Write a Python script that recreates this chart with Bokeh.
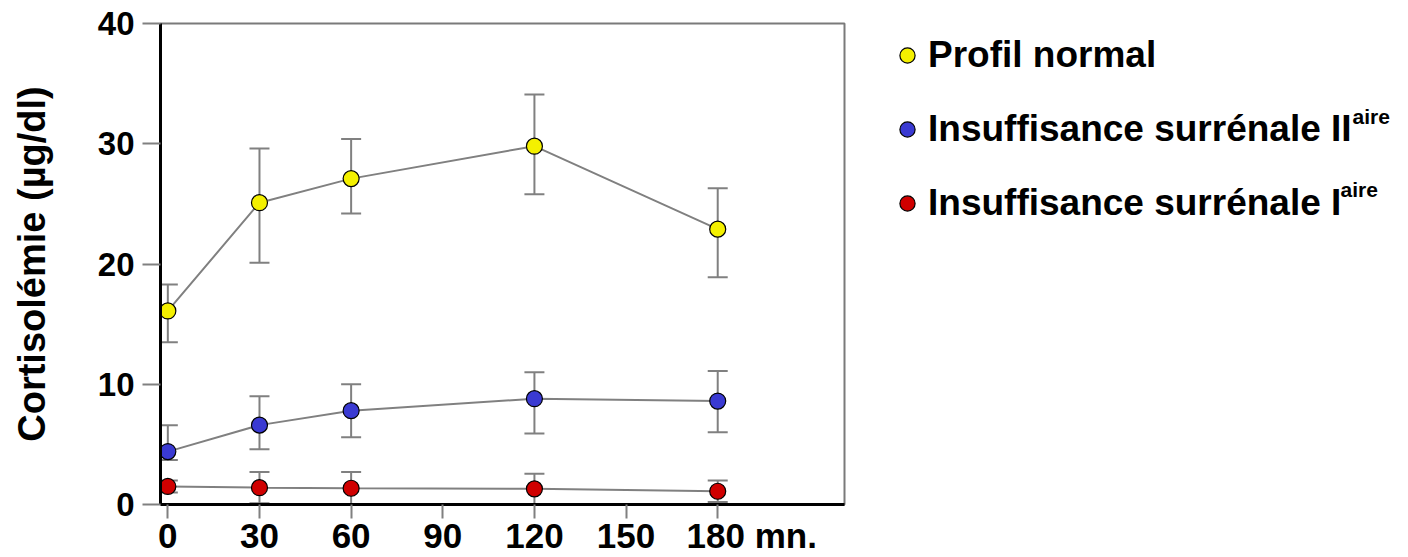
from bokeh.plotting import figure
from bokeh.layouts import row
from bokeh.models import (ColumnDataSource, Whisker, TeeHead, FixedTicker, Legend,
                          LegendItem, Label, Range1d)
from bokeh.embed import file_html
from bokeh.resources import INLINE

# ---------------- data ----------------
minutes = [0, 30, 60, 120, 180]
x_ticks = [0, 30, 60, 90, 120, 150, 180]
y_ticks = [0, 10, 20, 30, 40]

normal_mean = [16.1, 25.1, 27.1, 29.8, 22.9]
normal_hi = [18.3, 29.6, 30.4, 34.1, 26.3]
normal_lo = [13.5, 20.1, 24.2, 25.8, 18.9]

secondary_mean = [4.4, 6.6, 7.8, 8.8, 8.6]
secondary_hi = [6.6, 9.0, 10.0, 11.0, 11.1]
secondary_lo = [3.7, 4.6, 5.6, 5.9, 6.0]

primary_mean = [1.5, 1.4, 1.35, 1.3, 1.1]
primary_hi = [2.0, 2.7, 2.7, 2.55, 2.0]
primary_lo = [1.0, 0.1, 0.0, 0.05, 0.2]

labels = ["Profil normal", "Insuffisance surrénale II", "Insuffisance surrénale I"]
superscripts = ["", "aire", "aire"]
colors = ["#f4f000", "#3a3ad2", "#d00000"]
y_label = "Cortisolémie (µg/dl)"
x_unit = "mn."

FONT = "Liberation Sans"
GRAY = "#808080"

# ---------------- main chart ----------------
p = figure(width=877, height=557, output_backend="svg", toolbar_location=None,
           x_range=Range1d(-2.4, 221.5), y_range=Range1d(0, 40),
           min_border_left=160, min_border_right=33, min_border_top=23,
           min_border_bottom=50)
p.grid.visible = False
p.background_fill_color = "white"
p.border_fill_color = "white"
p.outline_line_color = "#7a7a7a"
p.outline_line_width = 2

for ax in (p.xaxis[0], p.yaxis[0]):
    ax.axis_line_color = "black"
    ax.axis_line_width = 3
    ax.major_tick_line_color = GRAY
    ax.major_tick_line_width = 2
    ax.major_tick_in = 0
    ax.minor_tick_line_color = None
    ax.major_label_text_font = FONT
    ax.major_label_text_font_style = "bold"
    ax.major_label_text_color = "black"

p.xaxis.ticker = FixedTicker(ticks=x_ticks)
p.xaxis.major_tick_out = 14
p.xaxis.major_label_standoff = -3
p.xaxis.major_label_text_font_size = "35px"
# last tick label carries the unit; non-breaking padding keeps "180" centred on its tick
p.xaxis.major_label_overrides = {x_ticks[-1]: "\u00a0" * 7 + f"{x_ticks[-1]} {x_unit}"}

p.yaxis.ticker = FixedTicker(ticks=y_ticks)
p.yaxis.major_tick_out = 18
p.yaxis.major_label_standoff = 8
p.yaxis.major_label_text_font_size = "33px"
p.yaxis.axis_label = y_label
p.yaxis.axis_label_text_font = FONT
p.yaxis.axis_label_text_font_size = "38px"
p.yaxis.axis_label_text_font_style = "bold"
p.yaxis.axis_label_text_color = "black"
p.yaxis.axis_label_standoff = 42

series = [
    (normal_mean, normal_hi, normal_lo),
    (secondary_mean, secondary_hi, secondary_lo),
    (primary_mean, primary_hi, primary_lo),
]

for (mean, hi, lo), col in zip(series, colors):
    src = ColumnDataSource(dict(x=minutes, y=mean, hi=hi, lo=lo))
    w = Whisker(base="x", upper="hi", lower="lo", source=src,
                line_color=GRAY, line_width=2,
                upper_head=TeeHead(size=20, line_color=GRAY, line_width=2),
                lower_head=TeeHead(size=20, line_color=GRAY, line_width=2))
    p.add_layout(w)
    p.line("x", "y", source=src, line_color=GRAY, line_width=2)
    p.scatter("x", "y", source=src, size=16, fill_color=col,
              line_color="black", line_width=1.2)

# ---------------- legend panel ----------------
lg = figure(width=531, height=557, output_backend="svg", toolbar_location=None,
            x_range=Range1d(0, 1), y_range=Range1d(0, 1),
            x_axis_location=None, y_axis_location=None,
            min_border_left=0, min_border_right=0, min_border_top=0, min_border_bottom=0)
lg.grid.visible = False
lg.outline_line_color = None
lg.background_fill_color = "white"
lg.border_fill_color = "white"

items = []
for lab, col in zip(labels, colors):
    # placeholder renderer (no visible data) that only supplies the legend swatch
    r = lg.scatter(x=[float("nan")], y=[float("nan")], size=16, fill_color=col,
                   line_color="black", line_width=1.2)
    items.append(LegendItem(label=lab, renderers=[r]))

legend = Legend(items=items, location="top_left", orientation="vertical",
                glyph_width=38, glyph_height=38, label_standoff=2, spacing=32,
                padding=0, margin=11, border_line_alpha=0, background_fill_alpha=0,
                label_text_font=FONT, label_text_font_size="37px",
                label_text_font_style="bold", label_text_color="black",
                label_height=40)
lg.add_layout(legend)

sup_x = [None, 475, 463]
sup_y = [None, 400, 327]
for s, sx, sy in zip(superscripts, sup_x, sup_y):
    if s:
        lg.add_layout(Label(x=sx, y=sy, x_units="screen", y_units="screen", text=s,
                            text_font=FONT, text_font_size="21px", text_font_style="bold",
                            text_baseline="top", text_align="left", text_color="black"))

open("out.html", "w").write(file_html(row(p, lg), INLINE))
